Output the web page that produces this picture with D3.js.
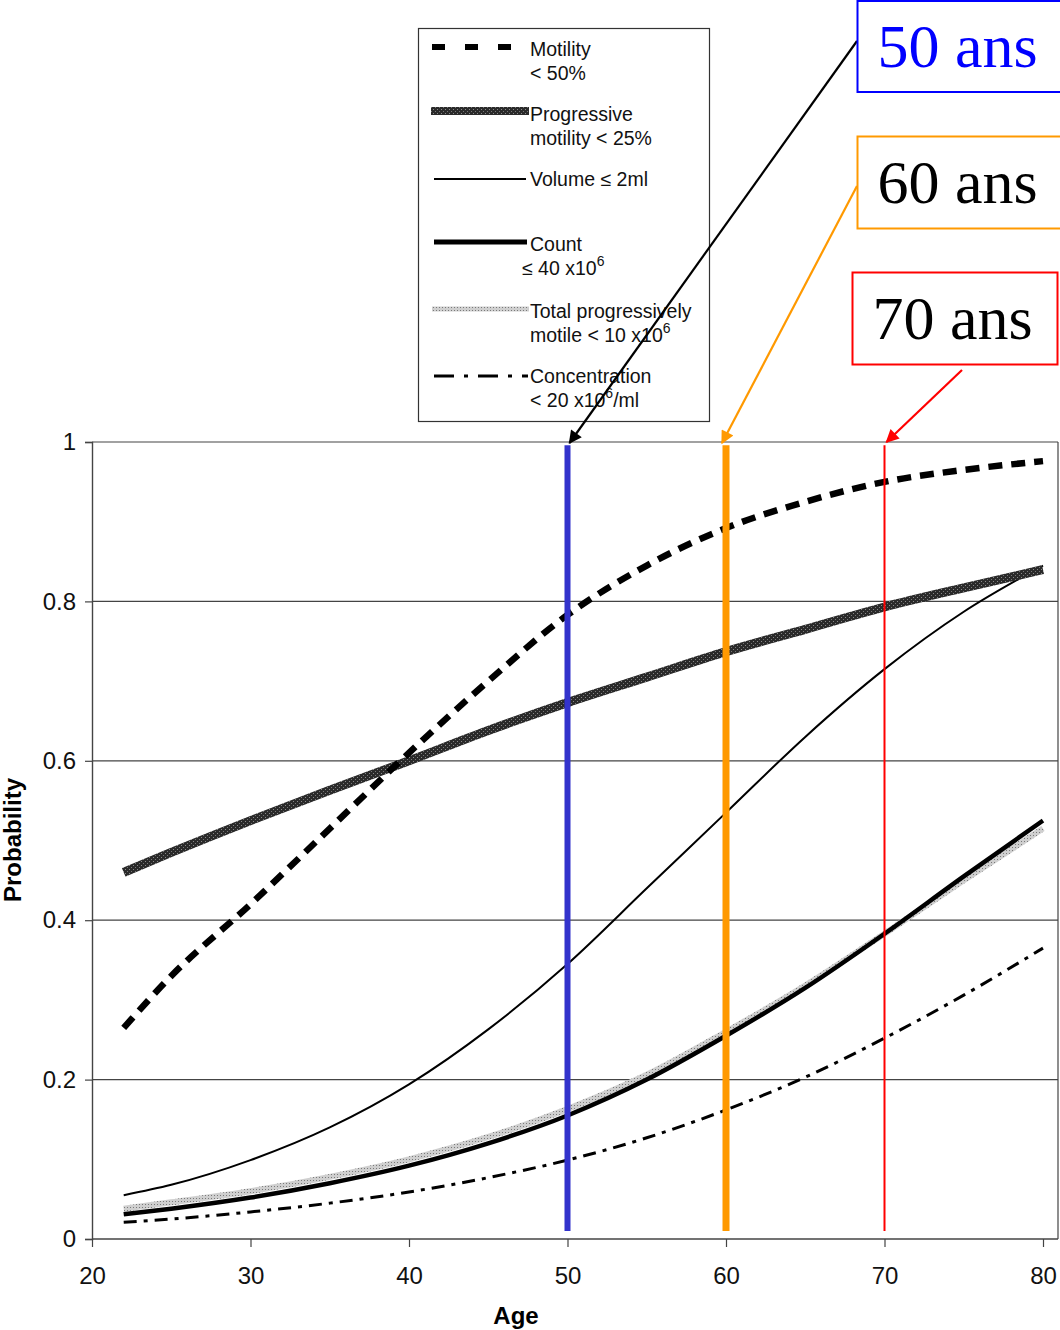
<!DOCTYPE html>
<html>
<head>
<meta charset="utf-8">
<script src="https://cdn.jsdelivr.net/npm/d3@7"></script>
<style>
  body { margin: 0; background: #fff; }
  svg { display: block; }
</style>
</head>
<body>
<div id="chart"></div>
<script>
const ages = [22, 25, 30, 35, 40, 45, 50, 55, 60, 65, 70, 75, 80];

const motility      = [0.265, 0.33, 0.42, 0.515, 0.61, 0.70, 0.783, 0.845, 0.892, 0.925, 0.95, 0.965, 0.976];
const progressive   = [0.46, 0.485, 0.525, 0.563, 0.60, 0.638, 0.673, 0.705, 0.737, 0.765, 0.793, 0.817, 0.84];
const volume        = [0.055, 0.068, 0.099, 0.14, 0.194, 0.263, 0.345, 0.44, 0.535, 0.63, 0.715, 0.787, 0.845];
const count         = [0.031, 0.038, 0.052, 0.07, 0.092, 0.12, 0.155, 0.2, 0.255, 0.315, 0.383, 0.455, 0.525];
const totalMotile   = [0.038, 0.046, 0.06, 0.078, 0.1, 0.128, 0.163, 0.206, 0.26, 0.318, 0.383, 0.45, 0.515];
const concentration = [0.021, 0.025, 0.034, 0.045, 0.059, 0.077, 0.099, 0.127, 0.162, 0.203, 0.252, 0.306, 0.365];

const xTicks = [20, 30, 40, 50, 60, 70, 80];
const yTicks = [0, 0.2, 0.4, 0.6, 0.8, 1];
const yTickLabels = ["0", "0.2", "0.4", "0.6", "0.8", "1"];

const markedAges = [50, 60, 70];
const markLabels = ["50 ans", "60 ans", "70 ans"];

const W = 1060, H = 1330;
const svg = d3.select("#chart").append("svg")
  .attr("width", W).attr("height", H)
  .style("font-family", "'Liberation Sans', Arial, sans-serif");

const x = d3.scaleLinear().domain([20, 80]).range([92, 1043]);
const y = d3.scaleLinear().domain([0, 1]).range([1239, 442]);
const right = 1058;

// gridlines
svg.append("g").selectAll("line")
  .data(yTicks.filter(d => d > 0))
  .join("line")
  .attr("x1", x(20)).attr("x2", right)
  .attr("y1", d => y(d)).attr("y2", d => y(d))
  .attr("stroke", "#444").attr("stroke-width", 1.2);

// frame right side
svg.append("line")
  .attr("x1", right).attr("x2", right)
  .attr("y1", y(1)).attr("y2", y(0))
  .attr("stroke", "#444").attr("stroke-width", 1.2);

// axes
const yAxis = d3.axisLeft(y).tickValues(yTicks)
  .tickFormat((d, i) => yTickLabels[i]).tickSize(7).tickPadding(9);
const gy = svg.append("g").attr("transform", `translate(${x(20)},0)`).call(yAxis);

const xAxis = d3.axisBottom(x).tickValues(xTicks).tickSize(8).tickPadding(20);
const gx = svg.append("g").attr("transform", `translate(0,${y(0)})`).call(xAxis);
gx.select(".domain").attr("d", `M${x(20)},0H${right}`);

[gx, gy].forEach(g => {
  g.select(".domain").attr("stroke", "#444").attr("stroke-width", 1.4);
  g.selectAll(".tick line").attr("stroke", "#444").attr("stroke-width", 1.2);
  g.selectAll(".tick text").attr("fill", "#111")
    .style("font-size", "24px").style("font-family", "'Liberation Sans', Arial, sans-serif");
});

svg.append("text")
  .attr("x", 516).attr("y", 1324)
  .attr("text-anchor", "middle")
  .style("font-size", "24px").style("font-weight", "bold")
  .text("Age");

svg.append("text")
  .attr("transform", "translate(21,840) rotate(-90)")
  .attr("text-anchor", "middle")
  .style("font-size", "24px").style("font-weight", "bold")
  .text("Probability");

// textured fills for the two hatched curves
const defs = svg.append("defs");
const p1 = defs.append("pattern").attr("id", "darkTex")
  .attr("width", 4).attr("height", 4).attr("patternUnits", "userSpaceOnUse");
p1.append("rect").attr("width", 4).attr("height", 4).attr("fill", "#2a2a2a");
p1.append("rect").attr("x", 1).attr("y", 1).attr("width", 1).attr("height", 1).attr("fill", "#8a8a8a");
p1.append("rect").attr("x", 3).attr("y", 3).attr("width", 1).attr("height", 1).attr("fill", "#777");
const p2 = defs.append("pattern").attr("id", "lightTex")
  .attr("width", 3).attr("height", 3).attr("patternUnits", "userSpaceOnUse");
p2.append("rect").attr("width", 3).attr("height", 3).attr("fill", "#cfcfcf");
p2.append("rect").attr("x", 1).attr("y", 1).attr("width", 1).attr("height", 1).attr("fill", "#7a7a7a");

const series = [
  { name: "totalMotile", values: totalMotile, stroke: "url(#lightTex)", width: 6, dash: null },
  { name: "concentration", values: concentration, stroke: "#000", width: 3, dash: "13,7,4,7" },
  { name: "volume", values: volume, stroke: "#000", width: 2, dash: null },
  { name: "count", values: count, stroke: "#000", width: 4.5, dash: null },
  { name: "progressive", values: progressive, stroke: "url(#darkTex)", width: 9, dash: null },
  { name: "motility", values: motility, stroke: "#000", width: 6.5, dash: "14,9" }
];

const line = d3.line()
  .x(d => x(d[0])).y(d => y(d[1]))
  .curve(d3.curveMonotoneX);

svg.append("g").selectAll("path")
  .data(series)
  .join("path")
  .attr("d", s => line(ages.map((a, i) => [a, s.values[i]])))
  .attr("fill", "none")
  .attr("stroke", s => s.stroke)
  .attr("stroke-width", s => s.width)
  .attr("stroke-dasharray", s => s.dash);

// age markers
const markColors = ["#3333cc", "#ff9900", "#ff0000"];
const markWidths = [6, 7, 2];
svg.append("g").selectAll("line")
  .data(markedAges)
  .join("line")
  .attr("x1", d => x(d)).attr("x2", d => x(d))
  .attr("y1", y(0.996)).attr("y2", y(0.01))
  .attr("stroke", (d, i) => markColors[i])
  .attr("stroke-width", (d, i) => markWidths[i]);

// legend
const legend = svg.append("g");
legend.append("rect")
  .attr("x", 418.5).attr("y", 28.5).attr("width", 291).attr("height", 393)
  .attr("fill", "#fff").attr("stroke", "#333").attr("stroke-width", 1.2);

const legendItems = [
  { ly: 47, x1: 432, x2: 519, stroke: "#000", width: 6, dash: "13,20", lines: [["Motility"], ["< 50%"]], ty: 56 },
  { ly: 111, x1: 431, x2: 529, stroke: "url(#darkTex)", width: 8, dash: null, lines: [["Progressive"], ["motility < 25%"]], ty: 121 },
  { ly: 179, x1: 434, x2: 526, stroke: "#000", width: 2, dash: null, lines: [["Volume ≤ 2ml"]], ty: 186 },
  { ly: 242, x1: 434, x2: 527, stroke: "#000", width: 5, dash: null, lines: [["Count"], ["≤ 40 x10", "6"]], ty: 251, indent: -8 },
  { ly: 309, x1: 432, x2: 529, stroke: "url(#lightTex)", width: 5, dash: null, lines: [["Total progressively"], ["motile < 10 x10", "6"]], ty: 318 },
  { ly: 376, x1: 434, x2: 528, stroke: "#000", width: 3, dash: "20,10,4,10", lines: [["Concentration"], ["< 20 x10", "6", "/ml"]], ty: 383 }
];

legendItems.forEach(it => {
  legend.append("line")
    .attr("x1", it.x1).attr("x2", it.x2)
    .attr("y1", it.ly).attr("y2", it.ly)
    .attr("stroke", it.stroke).attr("stroke-width", it.width)
    .attr("stroke-dasharray", it.dash);
  it.lines.forEach((parts, j) => {
    const t = legend.append("text")
      .attr("x", 530 + (j > 0 && it.indent ? it.indent : 0))
      .attr("y", it.ty + j * 24)
      .style("font-size", "19.5px").attr("fill", "#111");
    t.append("tspan").text(parts[0]);
    if (parts[1]) t.append("tspan").attr("dy", -9).style("font-size", "14px").text(parts[1]);
    if (parts[2]) t.append("tspan").attr("dy", 9).text(parts[2]);
  });
});

// annotation boxes with arrows
const boxes = [
  { x: 857.5, y: 1, w: 210, h: 91, color: "#0000ff", textColor: "#0000ff", from: [857, 41] },
  { x: 857.5, y: 136.5, w: 210, h: 92, color: "#ff9900", textColor: "#000", from: [857, 186] },
  { x: 852.5, y: 272.5, w: 205, h: 92, color: "#ff0000", textColor: "#000", from: [962, 370] }
];
const arrowColors = ["#000", "#ff9900", "#ff0000"];

arrowColors.forEach((c, i) => {
  defs.append("marker")
    .attr("id", "arrow" + i)
    .attr("viewBox", "0 0 10 10").attr("refX", 9).attr("refY", 5)
    .attr("markerWidth", 7).attr("markerHeight", 6)
    .attr("markerUnits", "strokeWidth")
    .attr("orient", "auto")
    .append("path").attr("d", "M0,0L10,5L0,10z").attr("fill", c);
});

const arrowTips = [[x(50) + 2, y(1) + 1], [x(60) - 4, y(1) + 1], [x(70) + 2, y(1)]];

boxes.forEach((b, i) => {
  svg.append("line")
    .attr("x1", b.from[0]).attr("y1", b.from[1])
    .attr("x2", arrowTips[i][0]).attr("y2", arrowTips[i][1])
    .attr("stroke", arrowColors[i]).attr("stroke-width", 2.2)
    .attr("marker-end", `url(#arrow${i})`);
  svg.append("rect")
    .attr("x", b.x).attr("y", b.y).attr("width", b.w).attr("height", b.h)
    .attr("fill", "#fff").attr("stroke", b.color).attr("stroke-width", 2);
  svg.append("text")
    .attr("x", b.x + 20).attr("y", b.y + 66)
    .style("font-family", "'Liberation Serif', 'Times New Roman', serif")
    .style("font-size", "62px")
    .attr("fill", b.textColor)
    .text(markLabels[i]);
});
</script>
</body>
</html>
